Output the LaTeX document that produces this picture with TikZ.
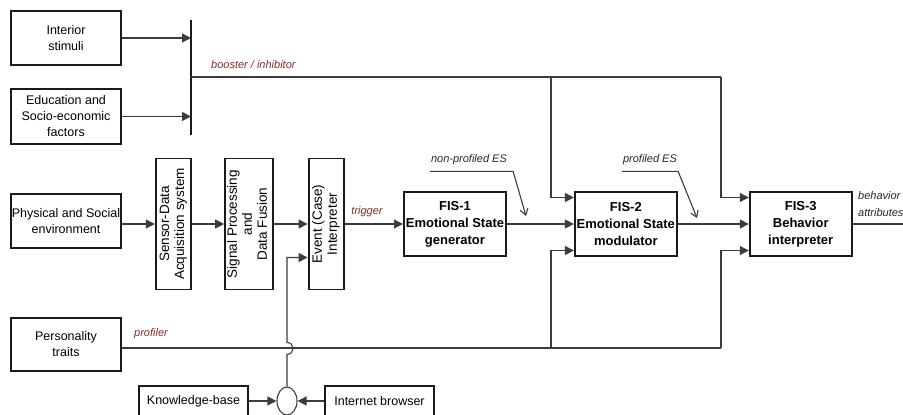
\documentclass[tikz,border=0pt]{standalone}
\usepackage{fontspec}
\setmainfont{Liberation Sans}
\usepackage{graphicx}
\usepackage{xcolor}
\usepackage{tikz}
\usetikzlibrary{arrows.meta, positioning, calc, shapes.geometric}
\definecolor{boxline}{HTML}{1A1A1A}
\definecolor{wiregray}{HTML}{3C3C3C}
\definecolor{lblred}{HTML}{8B2A2A}
\newcommand{\vtext}[1]{\rotatebox{90}{\begin{tabular}{@{}c@{}}#1\end{tabular}}}
\tikzset{
  blk/.style={draw=boxline, line width=1.9pt, fill=white, align=center, inner xsep=1pt, inner ysep=2pt, minimum width=110pt, font=\fontsize{12.5}{16}\selectfont},
  fis/.style={blk, minimum width=102pt, minimum height=64pt, inner xsep=0.5pt, font=\fontsize{13}{17}\selectfont\bfseries},
  vblk/.style={blk, minimum width=35.5pt, minimum height=131pt, inner sep=0pt, font=\fontsize{13.5}{15}\selectfont},
  flow/.style={-{Triangle[length=9pt, width=9pt]}, line width=1.1pt, wiregray},
  wire/.style={line width=1.1pt, wiregray},
  pointer/.style={-{Straight Barb[length=6pt, width=8pt]}, line width=1.1pt, wiregray},
  lbl/.style={font=\fontsize{11}{13}\selectfont\itshape, text=lblred, inner sep=1pt},
  note/.style={font=\fontsize{11}{17}\selectfont\itshape, text=black!85, inner sep=1pt},
}
\begin{document}
\begin{tikzpicture}[x=1pt, y=1pt]
    \useasboundingbox (0,0) rectangle (903,415);
    \clip (0,0) rectangle (903,415);
    \node[blk, minimum height=54pt] (interior) at (66,377) {Interior\\stimuli};
    \node[blk, minimum height=55pt] (education) at (66,298.5) {Education and\\Socio-economic\\factors};
    \node[blk, minimum height=54pt] (physical) at (66,194) {Physical and Social\\environment};
    \node[blk, minimum height=53pt] (personality) at (66,70.5) {Personality\\traits};
    \node[vblk] (sensor) at (173.5,191) {\vtext{Sensor-Data\\Acquisition system}};
    \node[vblk, minimum width=47.5pt, right=32pt of sensor] (signal) {\vtext{Signal Processing\\and\\Data Fusion}};
    \node[vblk, right=34pt of signal] (event) {\vtext{Event (Case)\\Interpreter}};
    \node[fis, right=58pt of event] (fis1) {FIS-1\\Emotional State\\generator};
    \node[fis, right=67pt of fis1] (fis2) {FIS-2\\Emotional State\\modulator};
    \node[fis, right=71pt of fis2] (fis3) {FIS-3\\Behavior\\interpreter};
    \node[draw=wiregray, line width=1.1pt, ellipse, minimum width=20pt, minimum height=28pt, inner sep=0pt] (circ) at (287,14) {};
    \node[blk, minimum width=109pt, minimum height=30pt] (kb) at (193.5,14) {Knowledge-base};
    \node[blk, minimum width=109pt, minimum height=30pt] (browser) at (379.5,14) {Internet browser};
    \coordinate (bartop) at (191,395);
    \coordinate (barbot) at (191,280);
    \coordinate (tap2) at (551,338);
    \coordinate (tap3) at (721,338);
    \coordinate (prof2) at (551,67);
    \coordinate (prof3) at (721,67);
    \coordinate (outend) at (910,191);
    \coordinate (tip1) at (526,199);
    \coordinate (tip2) at (697,197);
    \draw[line width=1.5pt, boxline] (bartop) -- (barbot);
    \draw[flow] (interior.east) -- (interior.east -| bartop);
    \draw[flow] (education.east) -- (education.east -| bartop);
    \draw[wire] (bartop |- tap2) -- (tap3);
    \draw[flow] (tap2) |- ([yshift=26.5pt]fis2.west);
    \draw[flow] (tap3) |- ([yshift=26.5pt]fis3.west);
    \node[lbl, anchor=west] at (210,350) {booster / inhibitor};
    \draw[flow] (physical.east |- sensor) -- (sensor.west);
    \draw[flow] (sensor) -- (signal);
    \draw[flow] (signal) -- (event);
    \draw[flow] (event) -- node[lbl, above=6pt, pos=0.38]{trigger} (fis1);
    \draw[flow] (fis1) -- (fis2);
    \draw[flow] (fis2) -- (fis3);
    \draw[wire] (fis3) -- (outend);
    \node[note, anchor=west, align=left] at (857,210.5) {behavior\\attributes};
    \draw[wire] (personality.east |- prof2) -- (prof3);
    \draw[flow] (prof2) |- ([yshift=-26.5pt]fis2.west);
    \draw[flow] (prof3) |- ([yshift=-26.5pt]fis3.west);
    \node[lbl, anchor=west] at (133,81) {profiler};
    \node[note] (nonprof) at (469,255) {non-profiled ES};
    \draw[pointer] ([yshift=-5pt]nonprof.south west) -- ([yshift=-5pt, xshift=5pt]nonprof.south east) -- (tip1);
    \node[note] (prof) at (650,255) {profiled ES};
    \draw[pointer] ([yshift=-5pt]prof.south west) -- ([yshift=-5pt]prof.south east) -- (tip2);
    \draw[flow] (kb.east |- circ) -- (circ.west);
    \draw[flow] (browser.west |- circ) -- (circ.east);
    \draw[flow] (circ.north) -- ++(0,32) .. controls +(8,0) and +(8,0) .. ++(0,12) |- ([yshift=-33.5pt]event.west);
  \end{tikzpicture}
\end{document}
